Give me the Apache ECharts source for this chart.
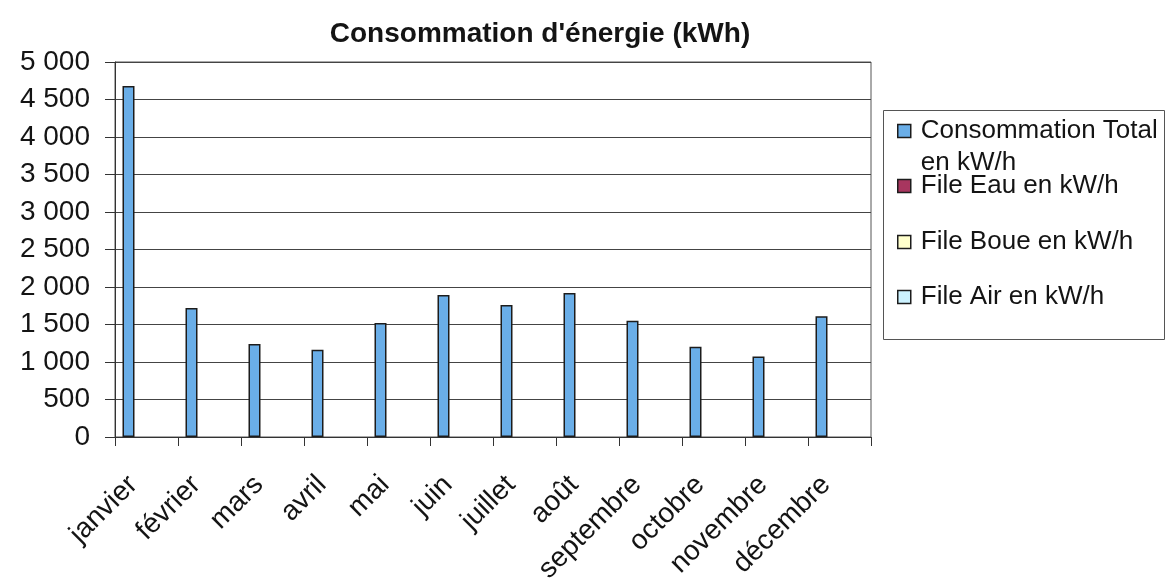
<!DOCTYPE html>
<html>
<head>
<meta charset="utf-8">
<script src="https://cdn.jsdelivr.net/npm/echarts@6/dist/echarts.min.js"></script>
<style>
html,body{margin:0;padding:0;background:#fff;}
#chart{width:1166px;height:582px;}
</style>
</head>
<body>
<div id="chart"></div>
<script>
const categories = ['janvier','février','mars','avril','mai','juin','juillet','août','septembre','octobre','novembre','décembre'];
const consommationTotal = [4680,1720,1240,1165,1520,1895,1760,1920,1550,1205,1075,1610];
const fileEau = [null,null,null,null,null,null,null,null,null,null,null,null];
const fileBoue = [null,null,null,null,null,null,null,null,null,null,null,null];
const fileAir = [null,null,null,null,null,null,null,null,null,null,null,null];
const seriesNames = ['Consommation Total\nen kW/h','File Eau en kW/h','File Boue en kW/h','File Air en kW/h'];
const seriesColors = ['#6aaee8','#a8365f','#ffffcc','#ccf2ff'];
const titleText = "Consommation d'énergie (kWh)";

const FONT = '"Liberation Sans", Arial, sans-serif';
const chart = echarts.init(document.getElementById('chart'), null, {renderer:'canvas'});

function fmt(v){
  if (v >= 1000) { return Math.floor(v/1000) + '\u00a0' + String(v % 1000).padStart(3,'0'); }
  return String(v);
}

const allData = [consommationTotal, fileEau, fileBoue, fileAir];
const series = allData.map((d,i)=>({
  name: seriesNames[i],
  type: 'bar',
  data: d,
  barGap: '0%',
  barWidth: 12,
  itemStyle: {color: seriesColors[i], borderColor: '#1c1c1c', borderWidth: 1.5},
  emphasis: {disabled: true},
  animation: false
}));

const legendTops = [83, 170, 226, 281];
const legends = seriesNames.map((n,i)=>({
  data: [n],
  orient: 'vertical',
  left: 897,
  top: legendTops[i],
  padding: 0,
  icon: 'rect',
  itemWidth: 13,
  itemHeight: 13,
  selectedMode: false,
  formatter: i === 0 ? (name => '\u200b\n' + name) : (name => name),
  itemStyle: {borderColor: '#1c1c1c', borderWidth: 1.5},
  textStyle: {
    fontFamily: FONT, fontSize: 26, color: '#141414', lineHeight: 32,
    padding: [0, 0, 0, 5]
  }
}));

chart.setOption({
  backgroundColor: '#ffffff',
  animation: false,
  title: {
    text: titleText,
    left: 540,
    top: 20,
    padding: 0,
    textAlign: 'center',
    textStyle: {fontFamily: FONT, fontSize: 28, fontWeight: 'bold', color: '#141414'}
  },
  legend: legends,
  graphic: [{
    type: 'rect',
    shape: {x: 883.5, y: 110.5, width: 281, height: 229},
    style: {fill: 'none', stroke: '#555', lineWidth: 1},
    silent: true
  }],
  grid: {
    left: 115, top: 62, width: 756, height: 375,
    containLabel: false, outerBoundsMode: 'none',
    show: true, borderColor: '#555', borderWidth: 1, backgroundColor: 'transparent'
  },
  xAxis: {
    type: 'category',
    data: categories,
    axisLine: {lineStyle: {color: '#333', width: 1}},
    axisTick: {show: true, length: 9, alignWithLabel: false, lineStyle: {color: '#333'}},
    axisLabel: {
      rotate: 45, interval: 0, margin: 30,
      fontFamily: FONT, fontSize: 28, color: '#141414',
      padding: [0, 19, 0, 0]
    },
    splitLine: {show: false}
  },
  yAxis: {
    type: 'value',
    min: 0, max: 5000, interval: 500,
    axisLine: {show: true, lineStyle: {color: '#333', width: 1}},
    axisTick: {show: true, length: 10, lineStyle: {color: '#333'}},
    axisLabel: {margin: 25, fontFamily: FONT, fontSize: 28, color: '#141414', formatter: fmt},
    splitLine: {show: true, lineStyle: {color: '#444', width: 1}}
  },
  series: series
});
</script>
</body>
</html>
